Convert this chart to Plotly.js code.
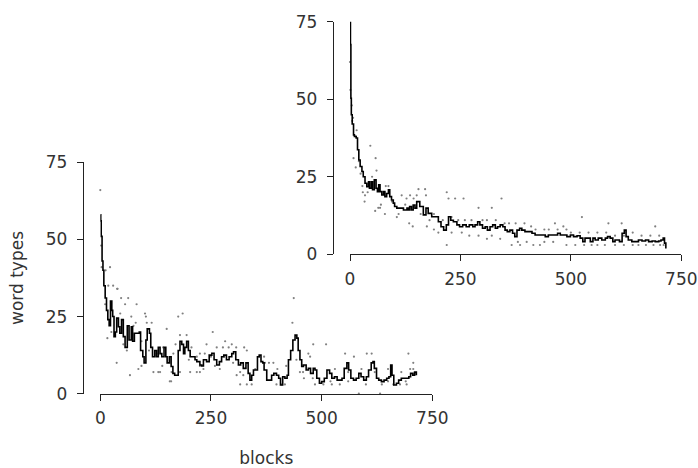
<!DOCTYPE html>
<html>
<head>
<meta charset="utf-8">
<script src="https://cdn.plot.ly/plotly-3.0.1.min.js"></script>
<style>html,body{margin:0;padding:0;background:#fff;}#chart{width:698px;height:468px;}</style>
</head>
<body>
<div id="chart"></div>
<script>
// ---- lower-left panel: smoothed line ----
const blocksA = [0,1,2,4,6,8,11,14,17,20,23,26,28,31,34,37,41,44,48,52,56,61,65,70,73,77,82,88,91,96,99,103,106,111,114,118,123,127,131,135,139,144,148,151,156,160,164,168,172,176,180,184,188,191,195,199,203,209,214,218,221,225,229,233,240,246,252,257,263,269,274,279,285,291,297,301,306,312,317,323,329,334,338,342,346,349,355,359,363,367,370,376,382,387,392,398,403,407,412,417,422,425,430,435,440,444,447,451,455,459,465,470,475,481,485,489,495,500,506,512,518,523,529,535,540,546,551,557,561,566,572,578,584,589,595,601,606,612,616,619,624,629,635,641,647,652,656,659,663,669,674,680,686,692,697,701,706,710,714];
const typesA = [58,56,51,43,40,35,31,27,24,22,30,27,25,18.5,20,24.5,21.7,19.6,24,18.5,15,22,17.4,21.7,17,19.6,19.6,20,14,12,10,17.4,21,19.6,15,12,14,12,15,13,12,15,12,10,12,8.8,6.6,6,6,14,17,16,13,15,17,14,12,12,11,10.4,10.4,9.3,9,11,10.4,12.5,13.1,11,9.3,10.4,12,12.5,11,12,13,13.6,11,9.3,10,8.2,10,6.6,4.4,6,7.7,7.7,12,12.5,10.4,10,7.7,4.4,4.4,6,6.6,6,5,2.8,5.5,5,6,11,14,17.4,19,18,14,11,8.8,9.3,7.7,8.2,6.6,8.2,7.7,5,3.4,3.9,5,7.7,6.6,5,5.5,4.4,4.4,5,8.2,10,7.7,5,4.4,5,6.6,5.5,4.4,5.5,7.7,10,10.4,8.2,5,4.4,3.9,4.4,5,5.5,9.3,6,2.8,3.4,4.4,5,5,5,5.5,6.6,6,7,6];

// ---- lower-left panel: raw points ----
const rawBlocksA = [0,2,3,12,22,18,29,39,11,47,63,82,56,16,37,67,52,75,93,86,101,105,116,127,142,150,135,157,186,180,218,206,165,180,120,38,103,176,160,161,93,131,195,225,236,203,225,218,437,434,254,240,263,282,297,277,290,307,325,331,372,381,391,359,370,481,510,470,474,553,573,602,613,696,707,707,316,331,342,398,410,417,485,504,523,541,584,632,636,662,677,692,233,259,270,225,308,316,323,443,451,458,530,560,590,620,650,680,700,520,560,600,650,690,460,480,350,400,420,300,280,250,60,80,110,140,170,200,25,45,70];
const rawTypesA = [66,48,41,40,41,35,35,34,29,31,31,29,29,18,10,6,16,22,17,8,26,23,23,13,15,21,7,4,26,19,12,15,13,7,7,34,25,25,4,7,9,7,19,13,13,7,7,7,31,23,20,16,15,17,16,15,15,15,15,14,10,10,10,12,12,16,16,13,12,13,12,13,13,13,10,8,3,3,3,3,3,3,3,3,3,3,0,0,3,3,3,3,8,9,8,9,6,7,6,11,7,7,8,7,8,7,8,7,8,4,4,3,4,4,5,5,8,8,9,10,12,12,14,23,14,9,16,11,20,26,25];

// ---- upper-right panel: smoothed line ----
const blocksB = [0,1,2,3,5,8,10,14,17,20,23,27,30,34,38,42,44,48,51,55,59,62,65,68,72,76,79,83,87,90,94,98,101,106,113,121,129,132,135,139,143,147,151,155,158,166,172,177,185,193,200,206,212,218,223,228,234,242,248,255,263,270,278,283,289,294,300,306,311,317,323,329,334,340,346,351,356,362,368,373,378,384,389,396,404,412,419,427,434,442,449,457,465,470,476,484,491,499,506,514,521,527,532,538,544,550,555,562,570,578,583,589,595,600,606,610,616,621,625,630,638,646,653,661,669,676,684,691,699,704,709,712,715];
const typesB = [75,67.6,50.3,45,42,38.5,38,37.5,33.7,30.4,28.3,26.7,25,22.9,21.8,23.4,21.3,23.4,20.8,24,21.3,20.2,22.4,20.2,19.1,20.2,18.6,19.6,20.8,18.6,17.5,16.5,15.4,14.9,14.9,14.3,14.9,14.3,15.4,14.3,15.9,14.9,17,17,15.4,12.7,14.9,13.2,12.1,12.1,10.5,8.9,7.8,9.5,12.1,11,10.5,9.5,8.9,9.5,8.9,9.5,8.9,9.5,10.5,9.5,8.4,8.9,7.8,8.9,9.5,8.4,8.9,9.5,8.9,7.8,7.3,7.8,6.8,5.7,7.8,8.4,7.8,7.3,7.3,6.8,6.2,6.2,6.2,5.7,6.2,6.2,6.2,6.8,6.2,6.2,5.7,6.2,5.7,6,5.2,4.1,5.2,5.2,4.1,5.2,4.6,5.2,4.6,5.2,5.7,5.2,4.1,4.6,4.6,4.1,6.8,7.8,5.7,4.6,4.1,4.1,4.6,4.3,4.6,4.1,4.3,4.1,4.3,4.6,5.2,3.6,1.9];

// ---- upper-right panel: raw points ----
const rawBlocksB = [0,1,4,7,5,15,13,46,58,24,8,13,29,34,33,40,64,68,57,79,106,87,81,117,128,136,144,134,142,151,170,172,219,223,238,257,291,321,343,219,174,200,253,291,321,366,385,415,430,464,483,525,585,615,691,547,577,653,687,702,180,190,210,230,245,260,275,300,310,330,350,360,375,395,410,420,440,450,470,490,500,520,540,560,580,600,620,640,660,680,700,190,230,270,310,340,380,400,440,460,490,510,530,560,600,620,640,670,710,20,28,50,60,70,95,110,125,160,155];
const rawTypesB = [62,53,48,44,43,40,38,35,31,26,31,28,20,19,17,20,15,15,14,13,12,22,22,19,18,19,18,10,9,19,21,19,20,18,18,18,15,15,18,3,9,7,7,6,6,3,3,3,3,10,9,12,10,10,9,3,3,3,3,3,11,13,11,12,11,11,11,11,11,11,10,10,10,10,9,8,8,8,8,8,7,7,7,7,7,6,6,7,6,6,6,8,7,6,5,5,4,4,4,4,3,3,3,3,3,3,3,3,3,30,22,25,27,16,17,13,16,13,21];

const xTicks = [0, 250, 500, 750];
const yTicks = [0, 25, 50, 75];

const lineStyle = {color: '#000', width: 1.6, shape: 'hv'};
const dotStyle = {color: '#808080', size: 2.2};

const traces = [
  {x: rawBlocksA, y: rawTypesA, xaxis: 'x', yaxis: 'y', mode: 'markers', type: 'scatter', marker: dotStyle, cliponaxis: false, hoverinfo: 'skip'},
  {x: blocksA, y: typesA, xaxis: 'x', yaxis: 'y', mode: 'lines', type: 'scatter', line: lineStyle},
  {x: rawBlocksB, y: rawTypesB, xaxis: 'x2', yaxis: 'y2', mode: 'markers', type: 'scatter', marker: dotStyle, cliponaxis: false, hoverinfo: 'skip'},
  {x: blocksB, y: typesB, xaxis: 'x2', yaxis: 'y2', mode: 'lines', type: 'scatter', line: lineStyle}
];

const font = {family: 'DejaVu Sans, sans-serif', size: 17, color: '#333'};
const axisCommon = {
  showgrid: false, zeroline: false, showline: true, linecolor: '#222', linewidth: 1,
  ticks: 'outside', ticklen: 6, tickwidth: 1, tickcolor: '#222',
  tickfont: font, fixedrange: true
};

const W = 698, H = 468;
const layout = {
  width: W, height: H,
  margin: {l: 0, r: 0, t: 0, b: 0},
  paper_bgcolor: '#fff', plot_bgcolor: 'rgba(0,0,0,0)',
  showlegend: false,
  font: font,
  xaxis: Object.assign({}, axisCommon, {
    domain: [100.3 / W, 432.3 / W], range: [0, 750], anchor: 'y',
    tickvals: xTicks, ticktext: xTicks.map(String), ticklabelstandoff: 3,
    title: {text: 'blocks', font: font, standoff: 26}
  }),
  yaxis: Object.assign({}, axisCommon, {
    domain: [1 - 393.7 / H, 1 - 162.3 / H], range: [0, 75], anchor: 'free', position: 82.7 / W,
    tickvals: yTicks, ticktext: yTicks.map(String), ticklabelstandoff: 6,
    title: {text: 'word types', font: font, standoff: 16}
  }),
  xaxis2: Object.assign({}, axisCommon, {
    domain: [350 / W, 681.3 / W], range: [0, 750], anchor: 'y2',
    tickvals: xTicks, ticktext: xTicks.map(String), ticklabelstandoff: 3
  }),
  yaxis2: Object.assign({}, axisCommon, {
    domain: [1 - 254.3 / H, 1 - 21.7 / H], range: [0, 75], anchor: 'free', position: 332.7 / W,
    tickvals: yTicks, ticktext: yTicks.map(String), ticklabelstandoff: 6
  })
};

Plotly.newPlot('chart', traces, layout, {displayModeBar: false, staticPlot: true});
</script>
</body>
</html>
